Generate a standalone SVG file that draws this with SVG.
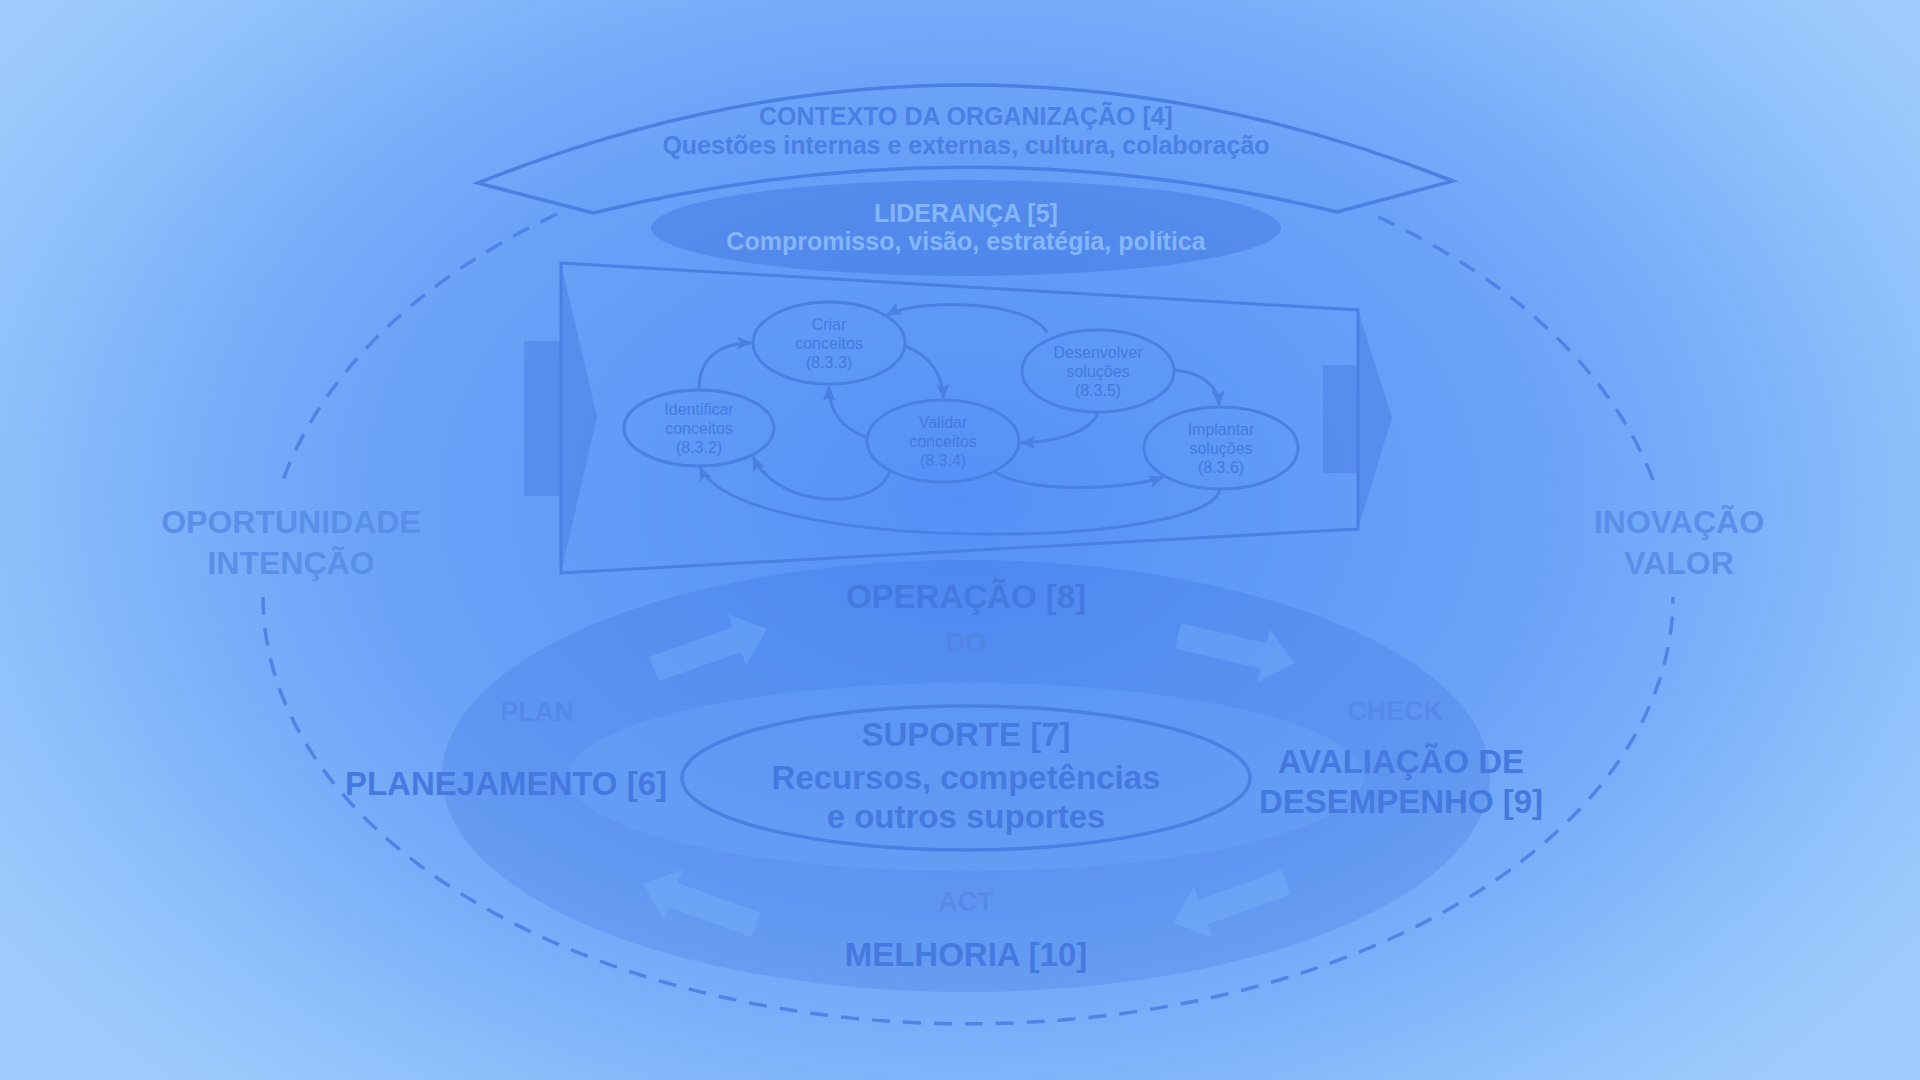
<svg xmlns="http://www.w3.org/2000/svg" width="1920" height="1080" viewBox="0 0 1920 1080">
<defs>
<radialGradient id="bg" gradientUnits="userSpaceOnUse" cx="960" cy="500" r="1150" gradientTransform="translate(960 500) scale(1 0.7) translate(-960 -500)">
<stop offset="0" stop-color="#5590f7"/>
<stop offset="0.5" stop-color="#6aa2f8"/>
<stop offset="0.65" stop-color="#78adf9"/>
<stop offset="0.85" stop-color="#8fc1fb"/>
<stop offset="1" stop-color="#9dcbfc"/>
</radialGradient>
<marker id="ah" viewBox="0 0 14 12" refX="13" refY="6" markerWidth="16" markerHeight="13" markerUnits="userSpaceOnUse" orient="auto">
<path d="M0,0 L14,6 L0,12 L3,6 Z" fill="#4a7fe3"/>
</marker>
<path id="blk" d="M0,-13 L88,-13 L88,-27 L120,0 L88,27 L88,13 L0,13 Z"/>
<style>
.t{font-family:"Liberation Sans",Arial,sans-serif;font-weight:bold;text-anchor:middle}
.big{font-size:33px;fill:#4579df}
.ctx{font-size:25px;fill:#4a7fe3}
.lid{font-size:25px;fill:#84b6fb}
.pd{font-size:27px;fill:#5383e3;fill-opacity:0.6}
.do{fill-opacity:0.9}
.side{font-size:32px;fill:#5a8fe9}
.n{font-family:"Liberation Sans",Arial,sans-serif;font-size:16px;fill:#4579df;text-anchor:middle}
.ol{fill:none;stroke:#4a7fe3;stroke-width:3.5}
.ne{fill:none;stroke:#4a7fe3;stroke-width:3}
.cn{fill:none;stroke:#4a7fe3;stroke-width:3;marker-end:url(#ah)}
.dash{fill:none;stroke:#4f84e6;stroke-width:3.5;stroke-dasharray:18 13}
.shade{fill:#1e50c8;fill-opacity:0.2}
.light{fill:#78b4ff;fill-opacity:0.25}
.blkarrow{fill:#80bcff;fill-opacity:0.3}
</style>
</defs>

<rect x="0" y="0" width="1920" height="1080" fill="url(#bg)"/>

<g id="boundary">
<path class="dash" d="M557,214 A705,460 0 0 0 283,480"/>
<path class="dash" d="M263,597 A705,427 0 0 0 1673,597"/>
<path class="dash" d="M1653,480 A705,460 0 0 0 1374,215"/>
</g>

<g id="contexto">
<path class="ol" d="M478,183 Q966,-12 1453,181 L1337,212 Q966,122 593,213 Z"/>
<text class="t ctx" x="966" y="125">CONTEXTO DA ORGANIZAÇÃO [4]</text>
<text class="t ctx" x="966" y="154">Questões internas e externas, cultura, colaboração</text>
</g>

<g id="lideranca">
<ellipse class="shade" cx="966" cy="228" rx="315" ry="48" style="fill-opacity:0.25"/>
<text class="t lid" x="966" y="222">LIDERANÇA [5]</text>
<text class="t lid" x="966" y="250">Compromisso, visão, estratégia, política</text>
</g>

<g id="operacao-processo">
<path class="shade" d="M524,341 L561,341 L561,263 L597,417 L561,573 L561,496 L524,496 Z"/>
<path class="shade" d="M1323,365 L1358,365 L1358,310 L1392,418 L1358,529 L1358,473 L1323,473 Z"/>
<path class="ol" d="M561,263 L1358,310 L1358,529 L561,573 Z" style="stroke-width:3"/>
</g>

<g id="pdca">
<ellipse class="shade" cx="966" cy="776" rx="524" ry="216" style="fill-opacity:0.15"/>
<ellipse class="light" cx="966" cy="777" rx="398" ry="94"/>
<use href="#blk" class="blkarrow" transform="translate(654,669) rotate(-19.5)"/>
<use href="#blk" class="blkarrow" transform="translate(1178,636) rotate(13)"/>
<use href="#blk" class="blkarrow" transform="translate(1286,882) rotate(160)"/>
<use href="#blk" class="blkarrow" transform="translate(756,925) rotate(200)"/>
<text class="t big" x="966" y="608">OPERAÇÃO [8]</text>
<text class="t pd do" x="966" y="652">DO</text>
<text class="t pd" x="537" y="721">PLAN</text>
<text class="t pd" x="1395" y="720">CHECK</text>
<text class="t pd" x="966" y="911">ACT</text>
<text class="t big" x="506" y="795">PLANEJAMENTO [6]</text>
<text class="t big" x="1401" y="773">AVALIAÇÃO DE</text>
<text class="t big" x="1401" y="813">DESEMPENHO [9]</text>
<text class="t big" x="966" y="966">MELHORIA [10]</text>
</g>

<g id="suporte">
<ellipse class="ol" cx="966" cy="778" rx="284" ry="72"/>
<text class="t big" x="966" y="746">SUPORTE [7]</text>
<text class="t big" x="966" y="789">Recursos, competências</text>
<text class="t big" x="966" y="828">e outros suportes</text>
</g>

<g id="oportunidade">
<text class="t side" x="291" y="533">OPORTUNIDADE</text>
<text class="t side" x="291" y="574">INTENÇÃO</text>
</g>

<g id="inovacao">
<text class="t side" x="1679" y="533">INOVAÇÃO</text>
<text class="t side" x="1679" y="574">VALOR</text>
</g>

<g id="connectors">
<path class="cn" d="M699,389 C699,358 720,343 751,343"/>
<path class="cn" d="M905,346 C930,355 943,375 943,398"/>
<path class="cn" d="M868,438 C840,428 829,410 829,387"/>
<path class="cn" d="M1047,333 C1030,300 920,298 887,315"/>
<path class="cn" d="M1098,412 C1092,432 1055,442 1021,443"/>
<path class="cn" d="M1174,370 C1200,372 1218,385 1219,405"/>
<path class="cn" d="M890,470 C880,510 780,512 753,457"/>
<path class="cn" d="M994,471 C1020,492 1120,492 1163,477"/>
<path class="cn" d="M1220,489 C1210,550 740,555 700,467"/>
</g>

<g id="identificar">
<ellipse class="ne" cx="699" cy="428" rx="75" ry="38"/>
<text class="n" x="699" y="415">Identificar</text>
<text class="n" x="699" y="434">conceitos</text>
<text class="n" x="699" y="453">(8.3.2)</text>
</g>
<g id="criar">
<ellipse class="ne" cx="829" cy="343" rx="76" ry="41"/>
<text class="n" x="829" y="330">Criar</text>
<text class="n" x="829" y="349">conceitos</text>
<text class="n" x="829" y="368">(8.3.3)</text>
</g>
<g id="validar">
<ellipse class="ne" cx="943" cy="441" rx="76" ry="41"/>
<text class="n" x="943" y="428">Validar</text>
<text class="n" x="943" y="447">conceitos</text>
<text class="n" x="943" y="466">(8.3.4)</text>
</g>
<g id="desenvolver">
<ellipse class="ne" cx="1098" cy="371" rx="76" ry="41"/>
<text class="n" x="1098" y="358">Desenvolver</text>
<text class="n" x="1098" y="377">soluções</text>
<text class="n" x="1098" y="396">(8.3.5)</text>
</g>
<g id="implantar">
<ellipse class="ne" cx="1221" cy="448" rx="77" ry="41"/>
<text class="n" x="1221" y="435">Implantar</text>
<text class="n" x="1221" y="454">soluções</text>
<text class="n" x="1221" y="473">(8.3.6)</text>
</g>
</svg>
